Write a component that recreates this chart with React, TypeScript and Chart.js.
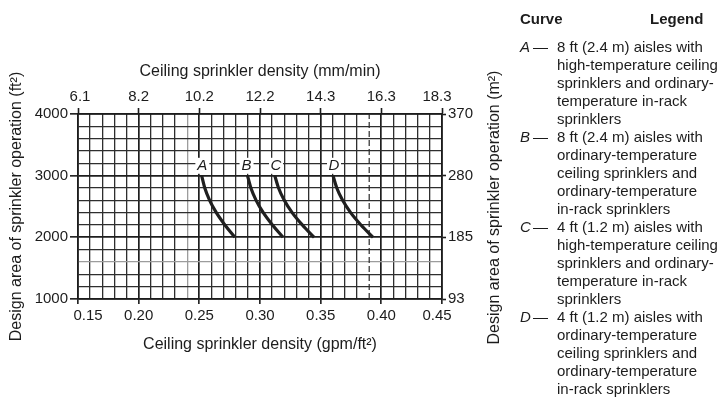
import React, { useEffect, useRef } from 'react';
import { Chart, registerables } from 'chart.js';

Chart.register(...registerables);

const FONT = '"Liberation Sans", Arial, Helvetica, sans-serif';
const INK = '#1c1c1c';

// ---- axes ----
const densityMin = 0.15;
const densityMax = 0.45;
const areaMin = 1000;
const areaMax = 4000;
const densityGridStep = 0.01;
const areaGridStep = 200;

const bottomTickValues = [0.15, 0.2, 0.25, 0.3, 0.35, 0.4, 0.45];
const bottomTickLabels = ['0.15', '0.20', '0.25', '0.30', '0.35', '0.40', '0.45'];
const topTickLabels = ['6.1', '8.2', '10.2', '12.2', '14.3', '16.3', '18.3'];
const leftTickValues = [1000, 2000, 3000, 4000];
const leftTickLabels = ['1000', '2000', '3000', '4000'];
const rightTickLabels = ['93', '185', '280', '370'];

// ---- curves (design area ft² vs density gpm/ft²) ----
const curveAreas = [3000, 2800, 2600, 2400, 2200, 2000];
const curveA = [0.2519, 0.2545, 0.2585, 0.264, 0.2711, 0.2793];
const curveB = [0.2897, 0.2925, 0.2968, 0.3027, 0.3103, 0.319];
const curveC = [0.3122, 0.3153, 0.32, 0.3265, 0.3349, 0.3446];
const curveD = [0.3602, 0.3633, 0.3681, 0.3747, 0.3832, 0.3932];
const curveNames = ['A', 'B', 'C', 'D'];
const curveLabelDensity = [0.2525, 0.2889, 0.3132, 0.361];
const curveLabelArea = 3160;
const dashedDensity = 0.39;

// ---- legend text ----
const legendA = ['8 ft (2.4 m) aisles with', 'high-temperature ceiling', 'sprinklers and ordinary-', 'temperature in-rack', 'sprinklers'];
const legendB = ['8 ft (2.4 m) aisles with', 'ordinary-temperature', 'ceiling sprinklers and', 'ordinary-temperature', 'in-rack sprinklers'];
const legendC = ['4 ft (1.2 m) aisles with', 'high-temperature ceiling', 'sprinklers and ordinary-', 'temperature in-rack', 'sprinklers'];
const legendD = ['4 ft (1.2 m) aisles with', 'ordinary-temperature', 'ceiling sprinklers and', 'ordinary-temperature', 'in-rack sprinklers'];

const fadedDensityLine = 0.24;
const fadedAreaLine = 1600;

const near = (a: number, b: number) => Math.abs(a - b) < 1e-6;
const isMajorDensity = (v: number) => near(v * 20, Math.round(v * 20));
const isMajorArea = (v: number) => near(v / 1000, Math.round(v / 1000));

export default function App() {
  const canvasRef = useRef<HTMLCanvasElement | null>(null);

  useEffect(() => {
    const canvas = canvasRef.current;
    if (!canvas) return;

    const densityGrid: { value: number }[] = [];
    const nX = Math.round((densityMax - densityMin) / densityGridStep);
    for (let i = 0; i <= nX; i++) densityGrid.push({ value: +(densityMin + i * densityGridStep).toFixed(4) });
    const areaGrid: { value: number }[] = [];
    const nY = Math.round((areaMax - areaMin) / areaGridStep);
    for (let i = 0; i <= nY; i++) areaGrid.push({ value: areaMin + i * areaGridStep });

    const curves = [curveA, curveB, curveC, curveD];

    const overlay = {
      id: 'overlay',
      afterDatasetsDraw(chart: any) {
        const { ctx } = chart;
        const x = chart.scales.x;
        const y = chart.scales.y;
        ctx.save();
        ctx.font = `italic 15px ${FONT}`;
        ctx.textAlign = 'center';
        ctx.textBaseline = 'middle';
        curveNames.forEach((n, i) => {
          const px = x.getPixelForValue(curveLabelDensity[i]);
          const py = y.getPixelForValue(curveLabelArea);
          ctx.fillStyle = '#ffffff';
          ctx.fillRect(px - 7, py - 8, 14, 16);
          ctx.fillStyle = INK;
          ctx.fillText(n, px, py + 0.5);
        });
        ctx.restore();
      },
      afterDraw(chart: any) {
        const { ctx, chartArea } = chart;
        const x = chart.scales.x;
        ctx.save();
        ctx.fillStyle = INK;
        ctx.font = `15px ${FONT}`;
        ctx.textAlign = 'center';
        ctx.textBaseline = 'middle';
        const last = bottomTickValues.length - 1;
        bottomTickValues.forEach((v, i) => {
          const px = x.getPixelForValue(v);
          const shiftB = i === 0 ? 10 : i === last ? -5 : 0;
          const shiftT = i === 0 ? 2 : i === last ? -5 : 0;
          ctx.fillText(bottomTickLabels[i], px + shiftB, chartArea.bottom + 17);
          ctx.fillText(topTickLabels[i], px + shiftT, chartArea.top - 17);
        });
        // right axis title (reads bottom to top like the left one)
        ctx.font = `16px ${FONT}`;
        ctx.translate(chartArea.right + 53, (chartArea.top + chartArea.bottom) / 2 + 1);
        ctx.rotate(-Math.PI / 2);
        ctx.fillText('Design area of sprinkler operation (m²)', 0, 0);
        ctx.restore();
      },
    };

    const gridColorX = (c: any) => {
      const v = c.tick ? c.tick.value : 0;
      if (near(v, dashedDensity)) return 'rgba(0,0,0,0)';
      if (near(v, fadedDensityLine)) return '#9c9c9c';
      return isMajorDensity(v) ? '#1e1e1e' : '#2e2e2e';
    };
    const gridColorY = (c: any) => {
      const v = c.tick ? c.tick.value : 0;
      if (near(v, fadedAreaLine)) return '#9c9c9c';
      return isMajorArea(v) ? '#1e1e1e' : '#2e2e2e';
    };

    const chart = new Chart(canvas, {
      type: 'line',
      data: {
        datasets: [
          ...curves.map((c, i) => ({
            label: curveNames[i],
            data: curveAreas.map((a, j) => ({ x: c[j], y: a })),
            borderColor: '#1f1f1f',
            borderWidth: 3.2,
            pointRadius: 0,
            cubicInterpolationMode: 'monotone',
            fill: false,
            xAxisID: 'x',
            yAxisID: 'y',
          })),
          {
            label: 'limit',
            data: [
              { x: dashedDensity, y: areaMin },
              { x: dashedDensity, y: areaMax },
            ],
            borderColor: '#2a2a2a',
            borderWidth: 1.2,
            borderDash: [6, 3],
            pointRadius: 0,
            fill: false,
            xAxisID: 'x',
            yAxisID: 'y',
          },
        ],
      },
      options: {
        responsive: false,
        maintainAspectRatio: false,
        animation: false,
        devicePixelRatio: 1,
        layout: { padding: 0 },
        plugins: { legend: { display: false }, tooltip: { enabled: false } },
        events: [],
        scales: {
          x: {
            type: 'linear',
            position: 'bottom',
            min: densityMin,
            max: densityMax,
            afterBuildTicks: (s: any) => { s.ticks = densityGrid.map((t) => ({ ...t })); },
            afterFit: (s: any) => { s.height = 100; },
            ticks: { display: false },
            grid: {
              color: gridColorX,
              lineWidth: (c: any) => (c.tick && isMajorDensity(c.tick.value) ? 1.7 : 1.3),
              tickLength: 5,
              tickColor: (c: any) => (c.tick && isMajorDensity(c.tick.value) ? INK : 'rgba(0,0,0,0)'),
              tickWidth: 1.6,
            },
            border: { display: true, color: INK, width: 1.6 },
            title: {
              display: true,
              text: 'Ceiling sprinkler density (gpm/ft²)',
              color: INK,
              font: { family: FONT, size: 16 },
              padding: { top: 0, bottom: 45 },
            },
          },
          x2: {
            type: 'linear',
            position: 'top',
            min: densityMin,
            max: densityMax,
            afterBuildTicks: (s: any) => { s.ticks = bottomTickValues.map((v) => ({ value: v })); },
            afterFit: (s: any) => { s.height = 114; },
            ticks: { display: false },
            grid: { drawOnChartArea: false, tickLength: 6, tickColor: INK, tickWidth: 1.6 },
            border: { display: true, color: INK, width: 1.6 },
            title: {
              display: true,
              text: 'Ceiling sprinkler density (mm/min)',
              color: INK,
              font: { family: FONT, size: 16 },
              padding: { top: 62, bottom: 0 },
            },
          },
          y: {
            type: 'linear',
            position: 'left',
            min: areaMin,
            max: areaMax,
            afterBuildTicks: (s: any) => { s.ticks = areaGrid.map((t) => ({ ...t })); },
            afterFit: (s: any) => { s.width = 78; },
            ticks: {
              autoSkip: false,
              padding: 2,
              color: INK,
              font: { family: FONT, size: 15 },
              callback: (v: any) => {
                const i = leftTickValues.indexOf(Number(v));
                return i >= 0 ? leftTickLabels[i] : '';
              },
            },
            grid: {
              color: gridColorY,
              lineWidth: (c: any) => (c.tick && isMajorArea(c.tick.value) ? 1.7 : 1.3),
              tickLength: 8,
              tickColor: (c: any) => (c.tick && isMajorArea(c.tick.value) ? INK : 'rgba(0,0,0,0)'),
              tickWidth: 1.6,
            },
            border: { display: true, color: INK, width: 1.6 },
            title: {
              display: true,
              text: 'Design area of sprinkler operation (ft²)',
              color: INK,
              font: { family: FONT, size: 16 },
              padding: { top: 7, bottom: 0 },
            },
          },
          y2: {
            type: 'linear',
            position: 'right',
            min: areaMin,
            max: areaMax,
            afterBuildTicks: (s: any) => { s.ticks = leftTickValues.map((v) => ({ value: v })); },
            afterFit: (s: any) => { s.width = 280; },
            ticks: {
              autoSkip: false,
              padding: 2,
              color: INK,
              font: { family: FONT, size: 15 },
              callback: (v: any) => {
                const i = leftTickValues.indexOf(Number(v));
                return i >= 0 ? rightTickLabels[i] : '';
              },
            },
            grid: { drawOnChartArea: false, tickLength: 4, tickColor: INK, tickWidth: 1.6 },
            border: { display: true, color: INK, width: 1.6 },
          },
        },
      },
      plugins: [overlay],
    } as any);

    return () => chart.destroy();
  }, []);

  const legendGroups = [legendA, legendB, legendC, legendD];
  const lineH = 18;
  const firstCenter = 47;
  const items: React.ReactNode[] = [];
  let row = 0;
  legendGroups.forEach((lines, g) => {
    lines.forEach((t, k) => {
      const top = firstCenter - lineH / 2 + row * lineH;
      if (k === 0) {
        items.push(
          <div key={`k${g}`} style={{ position: 'absolute', left: 520, top, lineHeight: `${lineH}px`, whiteSpace: 'nowrap' }}>
            <i>{curveNames[g]}</i>
          </div>,
        );
        items.push(
          <div key={`d${g}`} style={{ position: 'absolute', left: 533, top, lineHeight: `${lineH}px`, whiteSpace: 'nowrap' }}>
            —
          </div>,
        );
      }
      items.push(
        <div key={`t${g}-${k}`} style={{ position: 'absolute', left: 557, top, lineHeight: `${lineH}px`, whiteSpace: 'nowrap' }}>
          {t}
        </div>,
      );
      row++;
    });
  });

  return (
    <div style={{ position: 'absolute', left: 0, top: 0, width: 722, height: 399, background: '#fff', fontFamily: FONT, fontSize: 15, color: INK, overflow: 'hidden' }}>
      <canvas ref={canvasRef} width={722} height={399} style={{ position: 'absolute', left: 0, top: 0, width: 722, height: 399 }} />
      <div style={{ position: 'absolute', left: 520, top: 10, lineHeight: `${lineH}px`, fontWeight: 'bold' }}>Curve</div>
      <div style={{ position: 'absolute', left: 650, top: 10, lineHeight: `${lineH}px`, fontWeight: 'bold' }}>Legend</div>
      {items}
    </div>
  );
}
